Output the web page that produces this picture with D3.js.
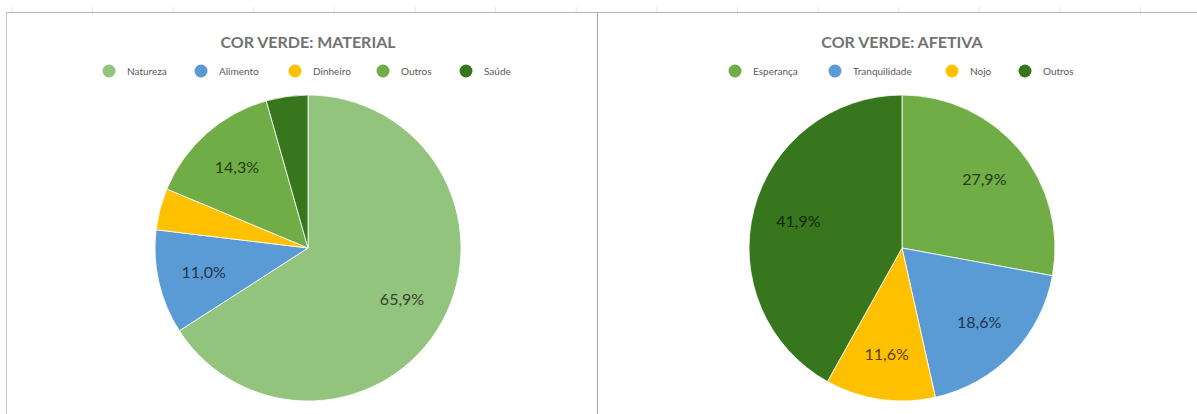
<!DOCTYPE html>
<html>
  <head>
    <meta charset="utf-8">
    <title>Cor verde</title>
    <script src="https://d3js.org/d3.v7.min.js"></script>
    <style>
      body { margin: 0; background: #fff; }
      text { font-family: Lato, "Open Sans", sans-serif; }
    </style>
  </head>
  <body>
    <svg id="chart" width="1197" height="414"></svg>
    <script>
// data
var materialCats = ["Natureza", "Alimento", "Dinheiro", "Outros", "Saúde"];
var materialVals = [65.9, 11.0, 4.4, 14.3, 4.4];
var materialColors = ["#93c47d", "#5b9bd5", "#ffc000", "#70ad47", "#38761d"];

var afetivaCats = ["Esperança", "Tranquilidade", "Nojo", "Outros"];
var afetivaVals = [27.9, 18.6, 11.6, 41.9];
var afetivaColors = ["#70ad47", "#5b9bd5", "#ffc000", "#38761d"];

// which slices get a printed label (small ones have none in the original)
var materialShow = [true, true, false, true, false];
var afetivaShow = [true, true, true, true];

var svg = d3.select("#chart");

// faint sheet grid marks on top
var colTicks = d3.range(12, 1197, 80.6);
svg.append("g").selectAll("line")
  .data(colTicks)
  .enter().append("line")
  .attr("x1", function(d) { return d; })
  .attr("x2", function(d) { return d; })
  .attr("y1", 7).attr("y2", 12)
  .attr("stroke", "#e4e4e4").attr("stroke-width", 1);

// chart frames
svg.append("line").attr("x1", 6).attr("x2", 1197).attr("y1", 12.5).attr("y2", 12.5)
  .attr("stroke", "#b3b3b3");
svg.append("line").attr("x1", 6.5).attr("x2", 6.5).attr("y1", 12).attr("y2", 414)
  .attr("stroke", "#c8c8c8");
svg.append("line").attr("x1", 597.5).attr("x2", 597.5).attr("y1", 12).attr("y2", 414)
  .attr("stroke", "#a6a6a6");

function drawPie(opts) {
  var g = svg.append("g");
  var radius = 153;

  g.append("text")
    .attr("x", opts.cx).attr("y", 48)
    .attr("text-anchor", "middle")
    .attr("font-size", 16).attr("font-weight", "bold")
    .attr("fill", "#727272")
    .text(opts.title);

  // legend
  var leg = g.append("g").selectAll("g")
    .data(opts.cats)
    .enter().append("g")
    .attr("transform", function(d, i) { return "translate(" + opts.legendX[i] + ",71)"; });
  leg.append("circle")
    .attr("r", 6.5)
    .attr("fill", function(d, i) { return opts.colors[i]; });
  leg.append("text")
    .attr("x", 18).attr("dy", "0.35em")
    .attr("font-size", 10)
    .attr("fill", "#595959")
    .text(function(d) { return d; });

  var pie = d3.pie().sort(null).value(function(d) { return d.v; });
  var arc = d3.arc().innerRadius(0).outerRadius(radius);
  var labelArc = d3.arc().innerRadius(radius * 0.7).outerRadius(radius * 0.7);

  var rows = opts.vals.map(function(v, i) { return { v: v, i: i }; });
  var arcs = pie(rows);

  var pg = g.append("g").attr("transform", "translate(" + opts.cx + "," + opts.cy + ")");
  pg.selectAll("path")
    .data(arcs)
    .enter().append("path")
    .attr("d", arc)
    .attr("fill", function(d) { return opts.colors[d.data.i]; })
    .attr("stroke", "#ffffff")
    .attr("stroke-width", 0.8);

  pg.selectAll("text.lbl")
    .data(arcs.filter(function(d) { return opts.show[d.data.i]; }))
    .enter().append("text")
    .attr("class", "lbl")
    .attr("transform", function(d) { return "translate(" + labelArc.centroid(d) + ")"; })
    .attr("text-anchor", "middle")
    .attr("dy", "0.35em")
    .attr("font-size", 16)
    .attr("fill", function(d) { return d3.color(opts.colors[d.data.i]).darker(3); })
    .text(function(d) { return d3.format(".1f")(d.data.v).replace(".", ",") + "%"; });
}

drawPie({
  title: "COR VERDE: MATERIAL",
  cats: materialCats, vals: materialVals, colors: materialColors, show: materialShow,
  cx: 308, cy: 248,
  legendX: [109, 201, 295, 383, 466]
});

drawPie({
  title: "COR VERDE: AFETIVA",
  cats: afetivaCats, vals: afetivaVals, colors: afetivaColors, show: afetivaShow,
  cx: 902, cy: 248,
  legendX: [735, 835, 952, 1025]
});
    </script>
  </body>
</html>
